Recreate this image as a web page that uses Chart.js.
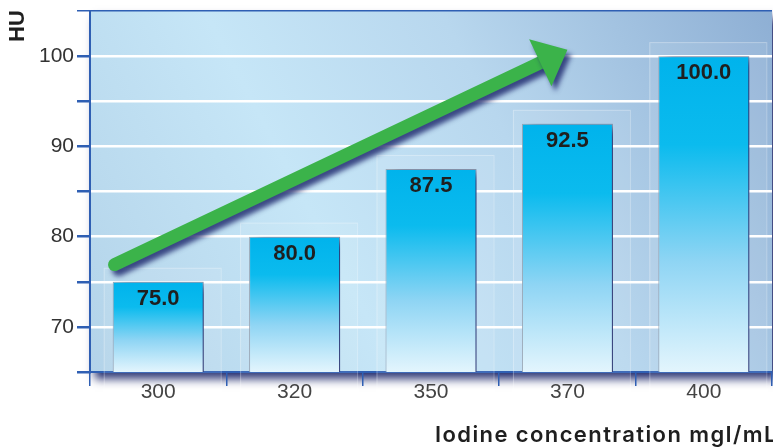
<!DOCTYPE html>
<html>
<head>
<meta charset="utf-8">
<script src="https://cdn.jsdelivr.net/npm/chart.js@4/dist/chart.umd.min.js"></script>
<style>
  body { margin: 0; background: #fff; }
  canvas { display: block; }
</style>
</head>
<body>
<canvas id="huChart" width="773" height="448"></canvas>
<script>
// iodine concentration (mgI/mL) vs. enhancement in HU
const categories = ['300', '320', '350', '370', '400'];
const huValues = [75.0, 80.0, 87.5, 92.5, 100.0];
const yLabelTicks = [70, 80, 90, 100];

// trend arrow, in axis units (category index, HU)
const arrowFrom = [-0.32, 76.9];
const arrowTo = [3.0, 100.7];

const AXIS_BLUE = '#2f5fb3';

function barGradient(context) {
    const chart = context.chart;
    const area = chart.chartArea;
    if (!area || context.parsed === undefined) return '#00b4ec';
    const top = chart.scales.y.getPixelForValue(context.parsed.y);
    const g = chart.ctx.createLinearGradient(0, top, 0, area.bottom);
    g.addColorStop(0, '#00b3ec');
    g.addColorStop(0.28, '#0bbbee');
    g.addColorStop(0.65, '#8fd5f4');
    g.addColorStop(1, '#e3f5fd');
    return g;
}

const decor = {
    id: 'decor',
    beforeDraw(chart) {
        const { ctx, chartArea: a } = chart;
        ctx.save();
        ctx.shadowColor = 'rgba(20, 30, 100, 0.95)';
        ctx.shadowBlur = 9;
        ctx.shadowOffsetX = 5;
        ctx.shadowOffsetY = 7;
        const g = ctx.createLinearGradient(a.left, a.bottom, a.right, a.top);
        g.addColorStop(0, '#b3d3e9');
        g.addColorStop(0.35, '#c6e6f7');
        g.addColorStop(0.62, '#b8d7ee');
        g.addColorStop(1, '#8eafd4');
        ctx.fillStyle = g;
        ctx.fillRect(a.left, a.top, a.width, a.height);
        ctx.restore();
    },
    beforeDatasetsDraw(chart) {
        const ctx = chart.ctx;
        // faint frames behind each bar
        chart.getDatasetMeta(0).data.forEach(bar => {
            const l = bar.x - bar.width / 2 - 9;
            const r = bar.x + bar.width / 2 + 17;
            const t = bar.y - 14;
            ctx.save();
            ctx.fillStyle = 'rgba(255,255,255,0.08)';
            ctx.strokeStyle = 'rgba(255,255,255,0.3)';
            ctx.lineWidth = 1;
            ctx.fillRect(l, t, r - l, bar.base - t);
            ctx.strokeRect(l + 0.5, t + 0.5, r - l, bar.base - t);
            ctx.restore();
        });
        ctx.save();
        ctx.shadowColor = 'rgba(25, 35, 105, 0.9)';
        ctx.shadowBlur = 9;
        ctx.shadowOffsetX = 8;
        ctx.shadowOffsetY = 3;
    },
    afterDatasetsDraw(chart) {
        const { ctx, scales } = chart;
        ctx.restore();

        // value labels inside the bars
        ctx.save();
        ctx.font = 'bold 22px "Liberation Sans", Arial, sans-serif';
        ctx.fillStyle = '#1f1f1f';
        ctx.textAlign = 'center';
        ctx.textBaseline = 'alphabetic';
        chart.getDatasetMeta(0).data.forEach((bar, i) => {
            ctx.fillText(huValues[i].toFixed(1), bar.x, bar.y + 23);
        });
        ctx.restore();

        // green trend arrow
        const x0 = scales.x.getPixelForValue(arrowFrom[0]);
        const y0 = scales.y.getPixelForValue(arrowFrom[1]);
        const x1 = scales.x.getPixelForValue(arrowTo[0]);
        const y1 = scales.y.getPixelForValue(arrowTo[1]);
        const len = Math.hypot(x1 - x0, y1 - y0);
        const ux = (x1 - x0) / len, uy = (y1 - y0) / len;
        const headLen = 30, headHalf = 26;
        const bx = x1 - ux * headLen, by = y1 - uy * headLen;

        ctx.save();
        ctx.shadowColor = 'rgba(25, 35, 105, 0.8)';
        ctx.shadowBlur = 5;
        ctx.shadowOffsetX = 4;
        ctx.shadowOffsetY = 5;
        ctx.strokeStyle = '#3bb34a';
        ctx.fillStyle = '#3bb34a';
        ctx.lineWidth = 13;
        ctx.lineCap = 'round';
        ctx.beginPath();
        ctx.moveTo(x0, y0);
        ctx.lineTo(bx + ux * 2, by + uy * 2);
        ctx.stroke();
        ctx.beginPath();
        ctx.moveTo(x1, y1);
        ctx.lineTo(bx - uy * headHalf, by + ux * headHalf);
        ctx.lineTo(bx + uy * headHalf, by - ux * headHalf);
        ctx.closePath();
        ctx.fill();
        ctx.restore();
    },
    afterDraw(chart) {
        const { ctx, chartArea: a } = chart;
        ctx.save();
        ctx.fillStyle = '#1f1f1f';
        ctx.font = 'bold 22px "Liberation Sans", Arial, sans-serif';
        ctx.translate(18, a.top + 15);
        ctx.rotate(-Math.PI / 2);
        ctx.textAlign = 'center';
        ctx.textBaseline = 'middle';
        ctx.fillText('HU', 0, 0);
        ctx.restore();

        ctx.save();
        ctx.fillStyle = '#1f1f1f';
        ctx.font = '600 22px Inter, "Liberation Sans", sans-serif';
        ctx.letterSpacing = '1.4px';
        ctx.textAlign = 'left';
        ctx.textBaseline = 'alphabetic';
        ctx.fillText('Iodine concentration mgI/mL', 435, 442);
        ctx.restore();
    }
};

const data = {
    labels: categories,
    datasets: [{
        label: 'HU',
        data: huValues,
        backgroundColor: barGradient,
        borderColor: '#9aa6b4',
        borderWidth: 1,
        borderSkipped: false,
        barPercentage: 0.667,
        categoryPercentage: 1.0
    }]
};

const config = {
    type: 'bar',
    data: data,
    options: {
        responsive: false,
        animation: false,
        layout: { padding: { top: 11, right: 1, left: 0, bottom: 0 } },
        plugins: {
            legend: { display: false },
            tooltip: { enabled: false }
        },
        scales: {
            x: {
                afterFit(scale) { scale.height = 76; scale.paddingLeft = 0; scale.paddingRight = 0; },
                border: { display: true, color: AXIS_BLUE, width: 2 },
                grid: {
                    offset: true,
                    drawOnChartArea: false,
                    drawTicks: true,
                    tickLength: 14,
                    tickColor: AXIS_BLUE,
                    lineWidth: 1.5
                },
                ticks: {
                    padding: -6,
                    color: '#333',
                    font: { family: '"Liberation Sans", Arial, sans-serif', size: 21 }
                }
            },
            y: {
                min: 65,
                max: 105,
                afterFit(scale) { scale.width = 90; scale.paddingTop = 0; scale.paddingBottom = 0; },
                border: { display: true, color: AXIS_BLUE, width: 2 },
                grid: {
                    color: ctx => {
                        const v = ctx.tick && ctx.tick.value;
                        if (v === 105) return AXIS_BLUE;
                        if (v === 65) return 'rgba(0,0,0,0)';
                        return '#ffffff';
                    },
                    lineWidth: ctx => (ctx.tick && ctx.tick.value === 105) ? 1.5 : 2.5,
                    drawTicks: true,
                    tickLength: 13,
                    tickColor: AXIS_BLUE
                },
                ticks: {
                    stepSize: 5,
                    padding: 3,
                    color: '#333',
                    font: { family: '"Liberation Sans", Arial, sans-serif', size: 21 },
                    callback: v => yLabelTicks.includes(v) ? String(v) : ''
                }
            }
        }
    },
    plugins: [decor]
};

const huChart = new Chart(document.getElementById('huChart'), config);
</script>
</body>
</html>
